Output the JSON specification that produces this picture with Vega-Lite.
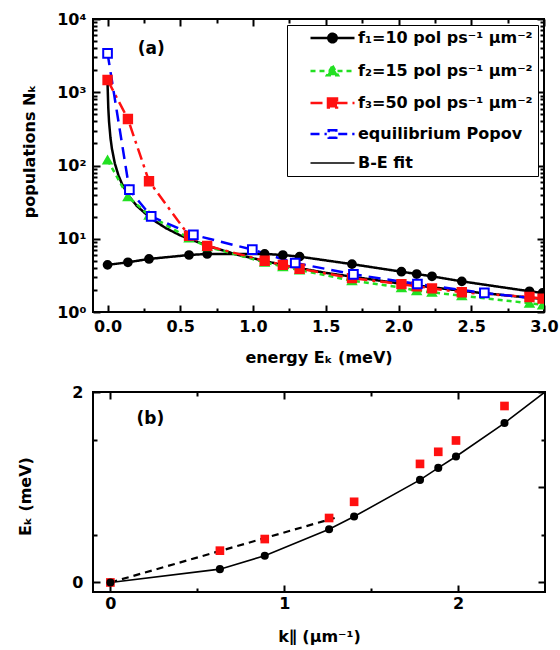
{
  "$schema": "https://vega.github.io/schema/vega-lite/v6.json",
  "padding": {"left": 16, "top": 10, "right": 0, "bottom": 5},
  "background": "white",
  "config": {
    "view": {"stroke": "black", "strokeWidth": 2},
    "font": "DejaVu Sans",
    "axis": {
      "labelFont": "DejaVu Sans", "labelFontSize": 16, "labelFontWeight": "bold", "labelColor": "black",
      "titleFont": "DejaVu Sans", "titleFontSize": 16, "titleFontWeight": "bold", "titleColor": "black",
      "domain": false, "grid": false, "tickColor": "black", "tickWidth": 2, "labelFlush": false
    }
  },
  "datasets": {
    "pop": [
      {"series": "be", "E": 0, "N": 1303},
      {"series": "be", "E": 0.005, "N": 618},
      {"series": "be", "E": 0.01, "N": 404},
      {"series": "be", "E": 0.02, "N": 239},
      {"series": "be", "E": 0.03, "N": 170},
      {"series": "be", "E": 0.05, "N": 107},
      {"series": "be", "E": 0.075, "N": 73.3},
      {"series": "be", "E": 0.1, "N": 55.7},
      {"series": "be", "E": 0.15, "N": 37.5},
      {"series": "be", "E": 0.2, "N": 28.2},
      {"series": "be", "E": 0.3, "N": 18.8},
      {"series": "be", "E": 0.4, "N": 14.0},
      {"series": "be", "E": 0.5, "N": 11.1},
      {"series": "be", "E": 0.7, "N": 7.84},
      {"series": "be", "E": 0.9, "N": 6.0},
      {"series": "be", "E": 1.2, "N": 4.39},
      {"series": "be", "E": 1.5, "N": 3.42},
      {"series": "be", "E": 2.0, "N": 2.46},
      {"series": "be", "E": 2.5, "N": 1.88},
      {"series": "be", "E": 3.0, "N": 1.5},
      {"series": "f1", "E": 0, "N": 4.4},
      {"series": "f1", "E": 0.14, "N": 4.77},
      {"series": "f1", "E": 0.285, "N": 5.3},
      {"series": "f1", "E": 0.56, "N": 6.0},
      {"series": "f1", "E": 0.685, "N": 6.2},
      {"series": "f1", "E": 1.08, "N": 6.2},
      {"series": "f1", "E": 1.205, "N": 6.0},
      {"series": "f1", "E": 1.32, "N": 5.7},
      {"series": "f1", "E": 1.68, "N": 4.5},
      {"series": "f1", "E": 2.02, "N": 3.55},
      {"series": "f1", "E": 2.125, "N": 3.3},
      {"series": "f1", "E": 2.23, "N": 3.07},
      {"series": "f1", "E": 2.435, "N": 2.62},
      {"series": "f1", "E": 2.9, "N": 1.92},
      {"series": "f1", "E": 2.99, "N": 1.82},
      {"series": "f2", "E": 0, "N": 119},
      {"series": "f2", "E": 0.14, "N": 37.5},
      {"series": "f2", "E": 0.285, "N": 21},
      {"series": "f2", "E": 0.56, "N": 10.2},
      {"series": "f2", "E": 0.685, "N": 7.8},
      {"series": "f2", "E": 1.08, "N": 4.77},
      {"series": "f2", "E": 1.205, "N": 4.16},
      {"series": "f2", "E": 1.32, "N": 3.74},
      {"series": "f2", "E": 1.68, "N": 2.68},
      {"series": "f2", "E": 2.02, "N": 2.15},
      {"series": "f2", "E": 2.125, "N": 1.95},
      {"series": "f2", "E": 2.23, "N": 1.86},
      {"series": "f2", "E": 2.435, "N": 1.67},
      {"series": "f2", "E": 2.9, "N": 1.32},
      {"series": "f2", "E": 2.99, "N": 1.25},
      {"series": "f3", "E": 0, "N": 1470},
      {"series": "f3", "E": 0.14, "N": 431},
      {"series": "f3", "E": 0.285, "N": 61},
      {"series": "f3", "E": 0.56, "N": 11.0},
      {"series": "f3", "E": 0.685, "N": 8.0},
      {"series": "f3", "E": 1.08, "N": 5.0},
      {"series": "f3", "E": 1.205, "N": 4.4},
      {"series": "f3", "E": 1.32, "N": 3.9},
      {"series": "f3", "E": 1.68, "N": 2.9},
      {"series": "f3", "E": 2.02, "N": 2.4},
      {"series": "f3", "E": 2.125, "N": 2.25},
      {"series": "f3", "E": 2.23, "N": 2.1},
      {"series": "f3", "E": 2.435, "N": 1.86},
      {"series": "f3", "E": 2.9, "N": 1.6},
      {"series": "f3", "E": 2.99, "N": 1.52},
      {"series": "pop", "E": 0, "N": 3400},
      {"series": "pop", "E": 0.15, "N": 46.8},
      {"series": "pop", "E": 0.3, "N": 20.2},
      {"series": "pop", "E": 0.59, "N": 11.3},
      {"series": "pop", "E": 0.995, "N": 7.1},
      {"series": "pop", "E": 1.29, "N": 4.67},
      {"series": "pop", "E": 1.69, "N": 3.27},
      {"series": "pop", "E": 2.13, "N": 2.41},
      {"series": "pop", "E": 2.59, "N": 1.82},
      {"series": "pop", "E": 3.1, "N": 1.42}
    ],
    "disp": [
      {"set": "black", "k": 0, "Ek": 0},
      {"set": "black", "k": 0.63, "Ek": 0.14},
      {"set": "black", "k": 0.888, "Ek": 0.281},
      {"set": "black", "k": 1.258, "Ek": 0.558},
      {"set": "black", "k": 1.402, "Ek": 0.692},
      {"set": "black", "k": 1.781, "Ek": 1.077},
      {"set": "black", "k": 1.886, "Ek": 1.203},
      {"set": "black", "k": 1.988, "Ek": 1.323},
      {"set": "black", "k": 2.267, "Ek": 1.674},
      {"set": "red", "k": 0, "Ek": 0},
      {"set": "red", "k": 0.63, "Ek": 0.334},
      {"set": "red", "k": 0.888, "Ek": 0.456},
      {"set": "red", "k": 1.258, "Ek": 0.677},
      {"set": "red", "k": 1.402, "Ek": 0.847},
      {"set": "red", "k": 1.781, "Ek": 1.245},
      {"set": "red", "k": 1.886, "Ek": 1.372},
      {"set": "red", "k": 1.988, "Ek": 1.491},
      {"set": "red", "k": 2.267, "Ek": 1.853}
    ],
    "fit": [
      {"k": 0, "Ek": 0},
      {"k": 0.63, "Ek": 0.14},
      {"k": 0.888, "Ek": 0.281},
      {"k": 1.258, "Ek": 0.558},
      {"k": 1.402, "Ek": 0.692},
      {"k": 1.781, "Ek": 1.077},
      {"k": 1.886, "Ek": 1.203},
      {"k": 1.988, "Ek": 1.323},
      {"k": 2.267, "Ek": 1.674},
      {"k": 2.6, "Ek": 2.14}
    ],
    "dash": [
      {"k": 0, "Ek": 0},
      {"k": 1.29, "Ek": 0.677}
    ]
  },
  "spacing": 17,
  "resolve": {"legend": {"color": "independent"}},
  "vconcat": [
    {
      "width": 451,
      "height": 293,
      "resolve": {"axis": {"x": "independent", "y": "independent"}},
      "layer": [
        {
          "data": {"name": "pop"},
          "mark": {"type": "line", "clip": true},
          "encoding": {
            "x": {"field": "E", "type": "quantitative", "scale": {"domain": [-0.1, 3.0], "nice": false, "zero": false},
              "axis": {"orient": "bottom", "values": [0, 0.5, 1, 1.5, 2, 2.5, 3], "format": ".1f", "tickSize": -7, "labelPadding": 13, "title": "energy Eₖ (meV)", "titlePadding": 15}},
            "y": {"field": "N", "type": "quantitative", "scale": {"type": "log", "domain": [1, 10000], "nice": false},
              "axis": {"orient": "left", "values": [1, 10, 100, 1000, 10000], "tickSize": -7, "labelPadding": 14,
                "labelExpr": "datum.value == 1 ? '10⁰' : datum.value == 10 ? '10¹' : datum.value == 100 ? '10²' : datum.value == 1000 ? '10³' : '10⁴'",
                "title": "populations Nₖ", "titleX": -64, "titleY": 132, "titleBaseline": "middle", "titleAngle": -90}},
            "color": {"field": "series", "type": "nominal",
              "scale": {"domain": ["f1", "f2", "f3", "pop", "be"], "range": ["black", "#22e022", "#ff1010", "#0000ff", "black"]},
              "legend": {
                "orient": "top-right", "offset": 6, "title": null,
                "fillColor": "white", "strokeColor": "black", "padding": 5,
                "labelFont": "DejaVu Sans", "labelFontSize": 16, "labelFontWeight": "bold", "labelColor": "black", "labelLimit": 400,
                "symbolSize": 100, "symbolStrokeWidth": 2, "rowPadding": 12, "labelOffset": 50,
                "labelExpr": "datum.value == 'f1' ? 'f₁=10 pol ps⁻¹ μm⁻²' : datum.value == 'f2' ? 'f₂=15 pol ps⁻¹ μm⁻²' : datum.value == 'f3' ? 'f₃=50 pol ps⁻¹ μm⁻²' : datum.value == 'pop' ? 'equilibrium Popov' : 'B-E fit'",
                "encode": {
                  "symbols": {
                    "update": {
                      "shape": {"signal": "datum.value == 'f1' ? 'M2.1,0H10.9M5.65,0A0.85,0.85 0 1,0 7.35,0A0.85,0.85 0 1,0 5.65,0Z' : datum.value == 'f2' ? 'M2.1,0H10.9M6.5,-1.05L7.6,0.85L5.4,0.85Z' : datum.value == 'f3' ? 'M2.1,0H10.9M5.6,-0.9H7.4V0.9H5.6Z' : datum.value == 'pop' ? 'M2.1,0H5.35M7.65,0H10.9M5.75,-0.75H7.25V0.75H5.75Z' : 'M2.1,0H10.9'"},
                      "fill": {"signal": "datum.value == 'f1' ? 'black' : datum.value == 'f2' ? '#22e022' : datum.value == 'f3' ? '#ff1010' : datum.value == 'pop' ? 'white' : 'transparent'"},
                      "fillOpacity": {"value": 1},
                      "strokeDash": {"signal": "datum.value == 'f2' ? [5,4] : datum.value == 'f3' ? [12,5,3,5] : datum.value == 'pop' ? [9,5] : [1,0]"},
                      "strokeWidth": {"signal": "datum.value == 'be' ? 1.5 : 2.5"}
                    }
                  }
                }
              }},
            "strokeDash": {"field": "series", "type": "nominal",
              "scale": {"domain": ["f1", "f2", "f3", "pop", "be"], "range": [[1, 0], [5, 4], [12, 5, 3, 5], [12, 7], [1, 0]]}, "legend": null},
            "strokeWidth": {"field": "series", "type": "nominal",
              "scale": {"domain": ["f1", "f2", "f3", "pop", "be"], "range": [2.5, 2.5, 3, 2.5, 1.5]}, "legend": null}
          }
        },
        {
          "data": {"name": "pop"},
          "transform": [{"filter": "datum.series != 'be'"}],
          "mark": {"type": "point", "clip": true, "filled": true, "opacity": 1, "strokeWidth": 2},
          "encoding": {
            "x": {"field": "E", "type": "quantitative", "scale": {"domain": [-0.1, 3.0], "nice": false, "zero": false},
              "axis": {"orient": "bottom", "values": [0.25, 0.75, 1.25, 1.75, 2.25, 2.75], "labels": false, "title": null, "tickSize": -4}},
            "y": {"field": "N", "type": "quantitative", "scale": {"type": "log", "domain": [1, 10000], "nice": false},
              "axis": {"orient": "left", "values": [2, 3, 4, 5, 6, 7, 8, 9, 20, 30, 40, 50, 60, 70, 80, 90, 200, 300, 400, 500, 600, 700, 800, 900, 2000, 3000, 4000, 5000, 6000, 7000, 8000, 9000], "labels": false, "title": null, "tickSize": -4}},
            "shape": {"field": "series", "type": "nominal", "scale": {"domain": ["f1", "f2", "f3", "pop"], "range": ["circle", "triangle-up", "square", "square"]}, "legend": null},
            "size": {"field": "series", "type": "nominal", "scale": {"domain": ["f1", "f2", "f3", "pop"], "range": [60, 75, 80, 55]}, "legend": null},
            "fill": {"field": "series", "type": "nominal", "scale": {"domain": ["f1", "f2", "f3", "pop"], "range": ["black", "#22e022", "#ff1010", "white"]}, "legend": null},
            "stroke": {"field": "series", "type": "nominal", "scale": {"domain": ["f1", "f2", "f3", "pop"], "range": ["black", "#22e022", "#ff1010", "#0000ff"]}, "legend": null}
          }
        },
        {
          "data": {"name": "pop"},
          "mark": {"type": "point", "opacity": 0, "clip": true},
          "encoding": {
            "x": {"field": "E", "type": "quantitative", "scale": {"domain": [-0.1, 3.0], "nice": false, "zero": false},
              "axis": {"orient": "top", "values": [0, 0.5, 1, 1.5, 2, 2.5, 3], "labels": false, "title": null, "tickSize": -7}},
            "y": {"field": "N", "type": "quantitative", "scale": {"type": "log", "domain": [1, 10000], "nice": false},
              "axis": {"orient": "right", "values": [1, 10, 100, 1000, 10000], "labels": false, "title": null, "tickSize": -7}}
          }
        },
        {
          "data": {"name": "pop"},
          "mark": {"type": "point", "opacity": 0, "clip": true},
          "encoding": {
            "x": {"field": "E", "type": "quantitative", "scale": {"domain": [-0.1, 3.0], "nice": false, "zero": false},
              "axis": {"orient": "top", "values": [0.25, 0.75, 1.25, 1.75, 2.25, 2.75], "labels": false, "title": null, "tickSize": -4}},
            "y": {"field": "N", "type": "quantitative", "scale": {"type": "log", "domain": [1, 10000], "nice": false},
              "axis": {"orient": "right", "values": [2, 3, 4, 5, 6, 7, 8, 9, 20, 30, 40, 50, 60, 70, 80, 90, 200, 300, 400, 500, 600, 700, 800, 900, 2000, 3000, 4000, 5000, 6000, 7000, 8000, 9000], "labels": false, "title": null, "tickSize": -4}}
          }
        },
        {
          "data": {"values": [{"label": "(a)"}]},
          "mark": {"type": "text", "fontSize": 17, "fontWeight": "bold", "font": "DejaVu Sans", "color": "black"},
          "encoding": {
            "x": {"datum": 0.3, "type": "quantitative", "scale": {"domain": [-0.1, 3.0], "nice": false, "zero": false}, "axis": null},
            "y": {"datum": 3900, "type": "quantitative", "scale": {"type": "log", "domain": [1, 10000], "nice": false}, "axis": null},
            "text": {"field": "label"}
          }
        }
      ]
    },
    {
      "width": 452,
      "height": 200,
      "resolve": {"axis": {"x": "independent", "y": "independent"}},
      "layer": [
        {
          "data": {"name": "fit"},
          "mark": {"type": "line", "clip": true, "color": "black", "strokeWidth": 1.6},
          "encoding": {
            "x": {"field": "k", "type": "quantitative", "scale": {"domain": [-0.1, 2.5], "nice": false, "zero": false},
              "axis": {"orient": "bottom", "values": [0, 1, 2], "format": "d", "tickSize": -7, "labelPadding": 10, "title": "k∥ (μm⁻¹)", "titlePadding": 17}},
            "y": {"field": "Ek", "type": "quantitative", "scale": {"domain": [-0.1, 2.0], "nice": false, "zero": false},
              "axis": {"orient": "left", "values": [0, 1, 2], "format": "d", "tickSize": -7, "labelPadding": 17,
                "title": "Eₖ  (meV)", "titleX": -68, "titleY": 104, "titleBaseline": "middle", "titleAngle": -90}}
          }
        },
        {
          "data": {"name": "dash"},
          "mark": {"type": "line", "clip": true, "color": "black", "strokeWidth": 2.2, "strokeDash": [7, 5]},
          "encoding": {
            "x": {"field": "k", "type": "quantitative", "scale": {"domain": [-0.1, 2.5], "nice": false, "zero": false},
              "axis": {"orient": "bottom", "values": [0.5, 1.5], "labels": false, "title": null, "tickSize": -4}},
            "y": {"field": "Ek", "type": "quantitative", "scale": {"domain": [-0.1, 2.0], "nice": false, "zero": false},
              "axis": {"orient": "left", "values": [0.5, 1.5], "labels": false, "title": null, "tickSize": -4}}
          }
        },
        {
          "data": {"name": "disp"},
          "transform": [{"filter": "datum.set == 'red'"}],
          "mark": {"type": "point", "shape": "square", "filled": true, "color": "#ff1010", "size": 75, "opacity": 1},
          "encoding": {
            "x": {"field": "k", "type": "quantitative", "scale": {"domain": [-0.1, 2.5], "nice": false, "zero": false},
              "axis": {"orient": "top", "values": [0, 1, 2], "labels": false, "title": null, "tickSize": -7}},
            "y": {"field": "Ek", "type": "quantitative", "scale": {"domain": [-0.1, 2.0], "nice": false, "zero": false},
              "axis": {"orient": "right", "values": [0, 1, 2], "labels": false, "title": null, "tickSize": -7}}
          }
        },
        {
          "data": {"name": "disp"},
          "transform": [{"filter": "datum.set == 'black'"}],
          "mark": {"type": "point", "shape": "circle", "filled": true, "color": "black", "size": 65, "opacity": 1},
          "encoding": {
            "x": {"field": "k", "type": "quantitative", "scale": {"domain": [-0.1, 2.5], "nice": false, "zero": false},
              "axis": {"orient": "top", "values": [0.5, 1.5], "labels": false, "title": null, "tickSize": -4}},
            "y": {"field": "Ek", "type": "quantitative", "scale": {"domain": [-0.1, 2.0], "nice": false, "zero": false},
              "axis": {"orient": "right", "values": [0.5, 1.5], "labels": false, "title": null, "tickSize": -4}}
          }
        },
        {
          "data": {"values": [{"label": "(b)"}]},
          "mark": {"type": "text", "fontSize": 17, "fontWeight": "bold", "font": "DejaVu Sans", "color": "black"},
          "encoding": {
            "x": {"datum": 0.23, "type": "quantitative", "scale": {"domain": [-0.1, 2.5], "nice": false, "zero": false}, "axis": null},
            "y": {"datum": 1.72, "type": "quantitative", "scale": {"domain": [-0.1, 2.0], "nice": false, "zero": false}, "axis": null},
            "text": {"field": "label"}
          }
        }
      ]
    }
  ]
}
